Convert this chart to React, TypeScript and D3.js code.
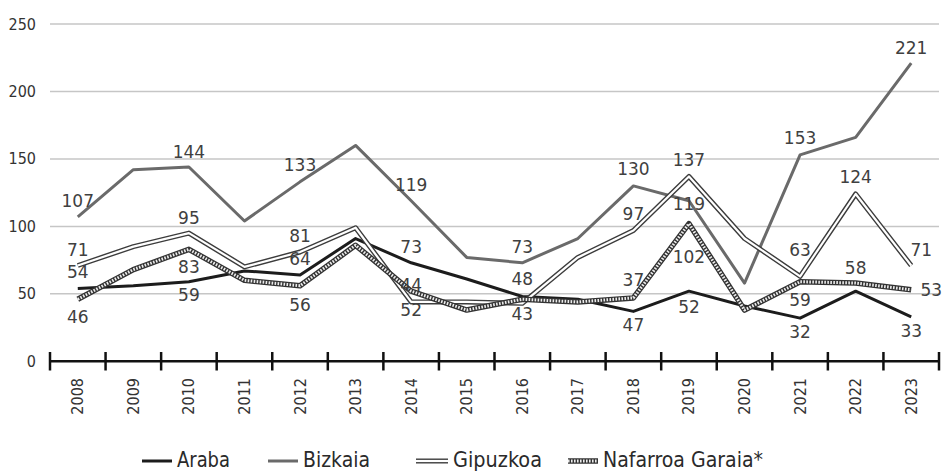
import React from "react";
import * as d3 from "d3";

const years = ["2008","2009","2010","2011","2012","2013","2014","2015","2016","2017","2018","2019","2020","2021","2022","2023"];
const araba = [54, 56, 59, 67, 64, 91, 73, 61, 48, 46, 37, 52, 41, 32, 52, 33];
const bizkaia = [107, 142, 144, 104, 133, 160, 119, 77, 73, 91, 130, 119, 58, 153, 166, 221];
const gipuzkoa = [71, 85, 95, 70, 81, 99, 44, 44, 43, 77, 97, 137, 91, 63, 124, 71];
const nafarroa = [46, 68, 83, 60, 56, 86, 52, 38, 46, 44, 47, 102, 38, 59, 58, 53];
const yTicks = [0, 50, 100, 150, 200, 250];
const seriesNames = ["Araba", "Bizkaia", "Gipuzkoa", "Nafarroa Garaia*"];

// label placement: [series index, year index, dx, dy]
const labelPlacement: [number, number, number, number][] = [
  [1, 0, 0, -16], [1, 2, 0, -15], [1, 4, 0, -17], [1, 6, 0, -16], [1, 8, 0, -16],
  [1, 10, 0, -16.5], [1, 11, 0, 3], [1, 13, 0, -16.5], [1, 15, 0, -15.5],
  [2, 0, 0, -15.5], [2, 2, 0, -15.5], [2, 4, 0, -16], [2, 6, 0, -17], [2, 8, 0, 11],
  [2, 10, 0, -16], [2, 11, 0, -16.5], [2, 13, 0, -26], [2, 14, 0, -16.5], [2, 15, 10, -16],
  [3, 0, 0, 18], [3, 2, 0, 18], [3, 4, 0, 19], [3, 6, 0, 19], [3, 10, 0, 27],
  [3, 11, 0, 33], [3, 13, 0, 18], [3, 14, 0, -15], [3, 15, 20, 0],
  [0, 0, 0, -16.5], [0, 2, 0, 13], [0, 4, 0, -16], [0, 6, 0, -16], [0, 8, 0, -18],
  [0, 10, 0, -31], [0, 11, 0, 16], [0, 13, 0, 14], [0, 15, 0, 14.5],
];

const W = 942, H = 473;
const NARROW = "'Liberation Sans Narrow', 'DejaVu Sans Condensed', 'Arial Narrow', sans-serif";

export default function App() {
  const allSeries = [araba, bizkaia, gipuzkoa, nafarroa];
  const x = d3.scaleBand<string>().domain(years).range([50, 939]);
  const y = d3.scaleLinear().domain([0, 250]).range([361.3, 24]);
  const cx = (i: number) => (x(years[i]) as number) + x.bandwidth() / 2;
  const line = d3.line<number>().x((_, i) => cx(i)).y((v) => y(v));
  const bounds = [...years.map((yr) => x(yr) as number), 939];

  const legendX = [142, 268, 416, 568];
  const legendLen = [53, 67, 89, 160];
  const legendY = 459;

  const drawStyled = (k: number, d: string, key: string) => {
    if (k === 0) return <path key={key} d={d} fill="none" stroke="#1c1c1c" strokeWidth={3} strokeLinejoin="round" />;
    if (k === 1) return <path key={key} d={d} fill="none" stroke="#6a6a6a" strokeWidth={3} strokeLinejoin="round" />;
    if (k === 2)
      return (
        <g key={key}>
          <path d={d} fill="none" stroke="#3c3c3c" strokeWidth={5} strokeLinejoin="round" />
          <path d={d} fill="none" stroke="#ffffff" strokeWidth={2.2} strokeLinejoin="round" />
        </g>
      );
    return (
      <g key={key}>
        <path d={d} fill="none" stroke="#333333" strokeWidth={5.5} strokeLinejoin="round" />
        <path d={d} fill="none" stroke="#ececec" strokeWidth={3} strokeDasharray="1.6 1.4" strokeLinejoin="round" />
      </g>
    );
  };

  return (
    <div style={{ position: "absolute", left: 0, top: 0 }}>
      <svg width={W} height={H} style={{ display: "block", background: "#fff" }}>
        {yTicks.filter((t) => t > 0).map((t) => (
          <line key={t} x1={50} x2={939} y1={y(t)} y2={y(t)} stroke="#c6c6c6" strokeWidth={1.5} />
        ))}
        {yTicks.map((t) => (
          <text key={t} x={36} y={y(t)} textAnchor="end" dominantBaseline="central"
            fontFamily={NARROW} fontSize={16} fill="#333">{t}</text>
        ))}
        <line x1={50} x2={939} y1={y(0)} y2={y(0)} stroke="#111" strokeWidth={2.5} />
        {bounds.map((b, i) => (
          <line key={i} x1={b} x2={b} y1={352} y2={370.5} stroke="#111" strokeWidth={2.5} />
        ))}
        {years.map((yr, i) => (
          <text key={yr} transform={`translate(${cx(i)},378) rotate(-90)`} textAnchor="end"
            dominantBaseline="central" fontFamily={NARROW} fontSize={16} fill="#333">{yr}</text>
        ))}
        {allSeries.map((s, k) => drawStyled(k, line(s) as string, "s" + k))}
        {labelPlacement.map(([k, i, dx, dy], j) => (
          <text key={j} x={cx(i) + dx} y={y(allSeries[k][i]) + dy} textAnchor="middle"
            dominantBaseline="central" fontFamily="'DejaVu Sans', Verdana, sans-serif" fontSize={17}
            fill="#404040">{allSeries[k][i]}</text>
        ))}
        {seriesNames.map((name, k) => {
          const lx = legendX[k];
          const len = k === 2 ? 32 : 30;
          const d = `M${lx},${legendY + 2}L${lx + len},${legendY + 2}`;
          return (
            <g key={name}>
              {drawStyled(k, d, "l" + k)}
              <text x={lx + len + 5} y={legendY} dominantBaseline="central" fontFamily={NARROW}
                fontSize={22} fill="#2a2a2a" textLength={legendLen[k]} lengthAdjust="spacingAndGlyphs">{name}</text>
            </g>
          );
        })}
      </svg>
    </div>
  );
}
